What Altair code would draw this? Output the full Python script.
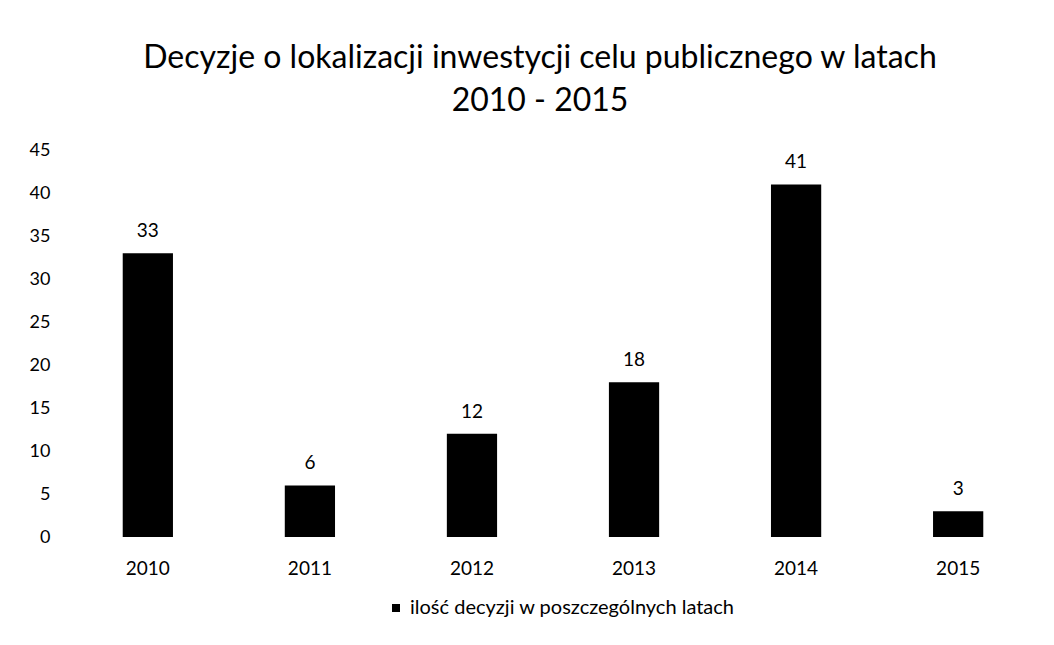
import altair as alt
import pandas as pd

years = ["2010", "2011", "2012", "2013", "2014", "2015"]
values = [33, 6, 12, 18, 41, 3]
series_name = "ilość decyzji w poszczególnych latach"
title_lines = ["Decyzje o lokalizacji inwestycji celu publicznego w latach", "2010 - 2015"]
y_ticks = [0, 5, 10, 15, 20, 25, 30, 35, 40, 45]

df = pd.DataFrame({"rok": years, "ilosc": values, "seria": [series_name] * len(years)})

FONT = "Lato"

base = alt.Chart(df).encode(
    x=alt.X(
        "rok:N",
        sort=years,
        scale=alt.Scale(paddingInner=0.69, paddingOuter=0.35),
        axis=alt.Axis(
            title=None, labelAngle=0, domain=False, ticks=False, grid=False,
            labelFont=FONT, labelFontSize=19, labelColor="#000", labelPadding=22,
        ),
    ),
    y=alt.Y(
        "ilosc:Q",
        scale=alt.Scale(domain=[0, 45], nice=False),
        axis=alt.Axis(
            title=None, values=y_ticks, domain=False, ticks=False, grid=False,
            labelFont=FONT, labelFontSize=18, labelColor="#000", labelPadding=16,
        ),
    ),
)

bars = base.mark_bar(color="#000").encode(
    color=alt.Color(
        "seria:N",
        scale=alt.Scale(range=["#000000"]),
        legend=alt.Legend(
            title=None, orient="none", legendX=320, legendY=448,
            symbolType="square", symbolSize=64, symbolStrokeWidth=0,
            labelFont=FONT, labelFontSize=20, labelColor="#000", padding=0,
            labelLimit=0, labelOffset=4,
        ),
    )
)

labels = base.mark_text(font=FONT, fontSize=19, color="#000", baseline="alphabetic", dy=-16).encode(
    text="ilosc:Q"
)

chart = (
    alt.layer(bars, labels)
    .properties(
        width=974,
        height=387,
        autosize=alt.AutoSizeParams(type="none"),
        padding={"left": 58, "top": 142, "right": 6, "bottom": 90},
        title=alt.TitleParams(
            text=title_lines, font=FONT, fontSize=32, fontWeight="normal", color="#000",
            anchor="middle", frame="group", offset=0, dy=2, lineHeight=43, dx=-13,
            baseline="alphabetic",
        ),
    )
    .configure(background="white")
    .configure_view(stroke=None, strokeWidth=0)
)

chart.save("out.html", embed_options={"renderer": "svg", "actions": False})
